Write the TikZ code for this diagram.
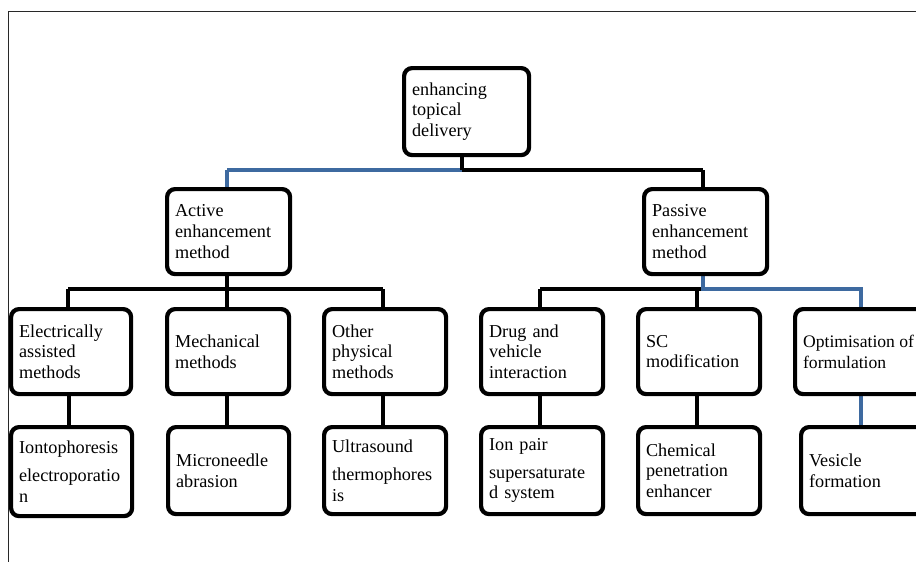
\documentclass[tikz,border=0pt]{standalone}
\usepackage{fontspec}
\setmainfont{Liberation Serif}
\definecolor{lineblue}{RGB}{62,106,160}
\definecolor{framegray}{RGB}{40,40,40}
\tikzset{
  box/.style={draw=black, line width=4.2pt, rounded corners=8pt, fill=white,
    align=left, inner xsep=8pt, inner ysep=0pt, anchor=north west,
    font=\fontsize{18.2}{20.7}\selectfont},
  blk/.style={draw=black, line width=4pt},
  blu/.style={draw=lineblue, line width=3.4pt},
  frame/.style={draw=framegray, line width=1.6pt}
}
\newlength{\bxtw}
\newcommand{\bx}[7][]{% opts, name, x, y, w, h, text
  \setlength{\bxtw}{#5pt}\addtolength{\bxtw}{-16pt}%
  \node[box, minimum width=#5pt, minimum height=#6pt, text width=\bxtw, #1] (#2) at (#3pt,-#4pt) {#7};}
\hyphenpenalty=10000
\exhyphenpenalty=10000
\begin{document}
\begin{tikzpicture}[x=1pt,y=1pt]
\clip (0,0) rectangle (916,-562);
\fill[white] (0,0) rectangle (916,-562);
% frame
\coordinate (f1) at (916,-11.5);
\coordinate (f2) at (8.5,-11.5);
\coordinate (f3) at (8.5,-562);
\draw[frame] (f1) -- (f2) -- (f3);
% junction coordinates
\coordinate (j0) at (462,-170);
\coordinate (ja) at (227,-170);
\coordinate (jp) at (703,-170);
\coordinate (ka) at (227,-289);
\coordinate (kp) at (703,-289);
% connectors (drawn first, under boxes)
\draw[blu] (ja) -- (j0);
\draw[blk] (j0) -- (jp);
\draw[blk] (462,-150) -- (j0);
\draw[blu] (ja) -- (227,-190);
\draw[blk] (jp) -- (703,-190);
% active branch
\draw[blk] (227,-270) -- (ka);
\draw[blk] (68,-289) -- (383,-289);
\draw[blk] (68,-289) -- (68,-310);
\draw[blk] (227,-289) -- (227,-310);
\draw[blk] (383,-289) -- (383,-310);
% passive branch
\draw[blk] (540,-289) -- (kp);
\draw[blu] (703,-270) -- (kp) -- (861,-289) -- (861,-310);
\draw[blk] (540,-289) -- (540,-310);
\draw[blk] (697,-289) -- (697,-310);
% level 2 -> 3
\draw[blk] (69,-390) -- (69,-428);
\draw[blk] (227,-390) -- (227,-428);
\draw[blk] (383,-390) -- (383,-428);
\draw[blk] (540,-390) -- (540,-428);
\draw[blk] (697,-390) -- (697,-428);
\draw[blu] (861,-390) -- (861,-428);
% boxes
\bx{root}{402}{66}{125}{87}{enhancing\\topical\\delivery}
\bx{act}{165}{187}{123}{85}{Active\\enhancement\\method}
\bx{pas}{642}{187}{123}{85}{Passive\\enhancement\\method}
\bx{el}{9}{307}{120}{85}{Electrically\\assisted\\methods}
\bx{me}{165}{307}{122}{85}{Mechanical\\methods}
\bx{ot}{322}{307}{122}{85}{Other\\physical\\methods}
\bx{dr}{479}{307}{122}{85}{Drug and\\vehicle\\interaction}
\bx{sc}{636}{307}{122}{85}{SC\\modification}
\bx[inner xsep=6pt, font=\fontsize{17.6}{20.7}\selectfont]{op}{793}{307}{150}{85}{Optimisation\hspace{0.25em}of\\formulation}
\bx{io}{9}{425}{121}{89}{Iontophoresis\\[7pt]electroporatio\\n}
\bx{mi}{166}{425}{121}{87}{Microneedle\\abrasion}
\bx{ul}{322}{425}{122}{87}{Ultrasound\\[7pt]thermophores\\is}
\bx{ip}{479}{425}{122}{87}{Ion pair\\[7pt]supersaturate\\d system}
\bx{ch}{636}{425}{122}{87}{Chemical\\penetration\\enhancer}
\bx{ve}{799}{425}{150}{87}{Vesicle\\formation}
\end{tikzpicture}
\end{document}
